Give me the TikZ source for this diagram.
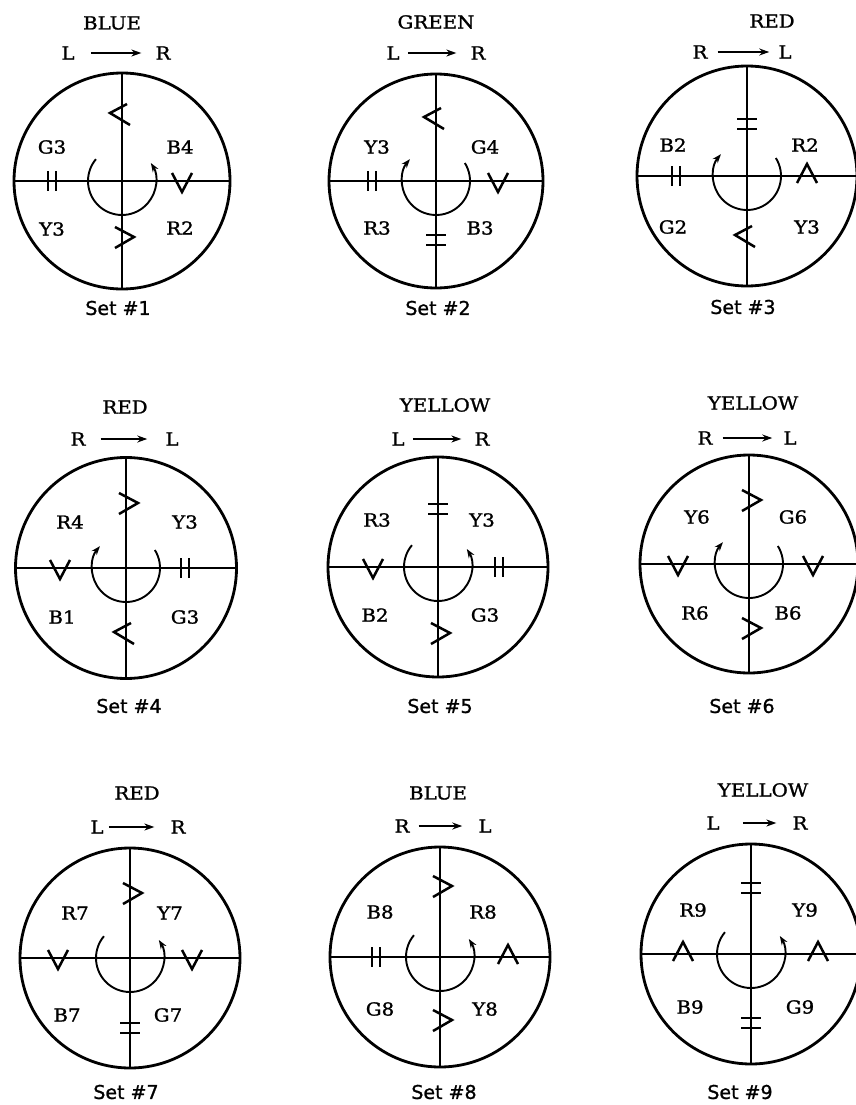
\documentclass[tikz,border=0pt]{standalone}
\usepackage{fontspec}
\setmainfont[FakeStretch=1.1,FakeBold=1.3]{DejaVu Serif}
\newfontfamily\setfont[FakeBold=1.2]{DejaVu Sans}
\usetikzlibrary{arrows.meta,calc}
\tikzset{
  ringnode/.style={circle,draw,line width=2.8pt,inner sep=0pt,outer sep=0pt},
  cross/.style={line width=1.9pt},
  mk/.style={line width=2.5pt,line join=miter},
  rotarr/.style={line width=1.9pt,-{Stealth[length=9pt,width=6.5pt]}},
  lbl/.style={inner sep=0pt,font=\fontsize{18}{21}\selectfont},
  setlbl/.style={inner sep=0pt,font=\setfont\fontsize{19}{22}\selectfont},
  dirarr/.style={line width=1.5pt,-{Stealth[length=10pt,width=7pt]}},
  vmk/.pic={\draw[mk] (-10,-8) -- (0,11) -- (10,-8);},
  amk/.pic={\draw[mk] (-10,7) -- (0,-12) -- (10,7);},
  hbars/.pic={\draw[mk] (-4,-10) -- (-4,10) (4,-10) -- (4,10);},
  vbars/.pic={\draw[mk] (-10,-5) -- (10,-5) (-10,5) -- (10,5);},
  lmk/.pic={\draw[mk] (5,-9) -- (-12,0) -- (8,12);},
  gmk/.pic={\draw[mk] (-7,-10) -- (12,0) -- (-7,11);},
}
\newcommand\turnR[1]{\draw[rotarr] ([shift={(220:34)}]#1.center) arc[start angle=220,end angle=-32,radius=34];}
\newcommand\turnL[1]{\draw[rotarr] ([shift={(-32:34)}]#1.center) arc[start angle=-32,end angle=220,radius=34];}
\newcommand\axes[1]{\draw[cross] (#1.north) -- (#1.south) (#1.west) -- (#1.east);}
\begin{document}
\begin{tikzpicture}[x=1pt,y=-1pt]
\useasboundingbox (0,0) rectangle (855,1105);

% ---------- Set 1 ----------
\node[ringnode,minimum size=216pt] (c1) at (122,181) {};
\axes{c1}
\node[lbl] (t1) at (112,23) {BLUE};
\node[lbl] (a1) at (68,53) {L};
\node[lbl] (b1) at (163,53) {R};
\draw[dirarr,shorten <=16pt,shorten >=14pt] (a1) -- (b1);
\node[lbl] (q1a) at (52,147) {G3};
\node[lbl] (q1b) at (180,147) {B4};
\node[lbl] (q1c) at (52,229) {Y3};
\node[lbl] (q1d) at (180,228) {R2};
\pic at (122,113) {lmk};
\pic at (182,181) {vmk};
\pic at (122,237) {gmk};
\pic at (52,181) {hbars};
\turnR{c1}
\node[setlbl] (s1) at (118,308) {Set \#1};

% ---------- Set 2 ----------
\node[ringnode,minimum size=214pt] (c2) at (436,181) {};
\axes{c2}
\node[lbl] (t2) at (436,22) {GREEN};
\node[lbl] (a2) at (393,53) {L};
\node[lbl] (b2) at (478,53) {R};
\draw[dirarr,shorten <=8pt,shorten >=14pt] (a2) -- (b2);
\node[lbl] (q2a) at (377,147) {Y3};
\node[lbl] (q2b) at (485,147) {G4};
\node[lbl] (q2c) at (377,228) {R3};
\node[lbl] (q2d) at (480,228) {B3};
\pic at (436,117) {lmk};
\pic at (498,181) {vmk};
\pic at (436,240) {vbars};
\pic at (372,181) {hbars};
\turnL{c2}
\node[setlbl] (s2) at (438,308) {Set \#2};

% ---------- Set 3 ----------
\node[ringnode,minimum size=220pt] (c3) at (747,176) {};
\axes{c3}
\node[lbl] (t3) at (772,21) {RED};
\node[lbl] (a3) at (700,52) {R};
\node[lbl] (b3) at (785,52) {L};
\draw[dirarr,shorten <=10pt,shorten >=9pt] (a3) -- (b3);
\node[lbl] (q3a) at (673,145) {B2};
\node[lbl] (q3b) at (805,145) {R2};
\node[lbl] (q3c) at (673,227) {G2};
\node[lbl] (q3d) at (807,227) {Y3};
\pic at (747,124) {vbars};
\pic at (807,176) {amk};
\pic at (747,235) {lmk};
\pic at (676,176) {hbars};
\turnL{c3}
\node[setlbl] (s3) at (743,307) {Set \#3};

% ---------- Set 4 ----------
\node[ringnode,minimum size=221pt] (c4) at (126,568) {};
\axes{c4}
\node[lbl] (t4) at (125,407) {RED};
\node[lbl] (a4) at (78,439) {R};
\node[lbl] (b4) at (172,439) {L};
\draw[dirarr,shorten <=15pt,shorten >=18pt] (a4) -- (b4);
\node[lbl] (q4a) at (70,522) {R4};
\node[lbl] (q4b) at (185,522) {Y3};
\node[lbl] (q4c) at (62,617) {B1};
\node[lbl] (q4d) at (185,617) {G3};
\pic at (126,503) {gmk};
\pic at (185,568) {hbars};
\pic at (126,632) {lmk};
\pic at (60,568) {vmk};
\turnL{c4}
\node[setlbl] (s4) at (129,706) {Set \#4};

% ---------- Set 5 ----------
\node[ringnode,minimum size=220pt] (c5) at (438,567) {};
\axes{c5}
\node[lbl] (t5) at (445,405) {YELLOW};
\node[lbl] (a5) at (398,439) {L};
\node[lbl] (b5) at (482,439) {R};
\draw[dirarr,shorten <=8pt,shorten >=13pt] (a5) -- (b5);
\node[lbl] (q5a) at (377,520) {R3};
\node[lbl] (q5b) at (482,520) {Y3};
\node[lbl] (q5c) at (375,615) {B2};
\node[lbl] (q5d) at (485,615) {G3};
\pic at (438,509) {vbars};
\pic at (499,567) {hbars};
\pic at (438,633) {gmk};
\pic at (373,567) {vmk};
\turnR{c5}
\node[setlbl] (s5) at (440,706) {Set \#5};

% ---------- Set 6 ----------
\node[ringnode,minimum size=218pt] (c6) at (749,564) {};
\axes{c6}
\node[lbl] (t6) at (753,403) {YELLOW};
\node[lbl] (a6) at (705,438) {R};
\node[lbl] (b6) at (790,438) {L};
\draw[dirarr,shorten <=10pt,shorten >=11pt] (a6) -- (b6);
\node[lbl] (q6a) at (697,517) {Y6};
\node[lbl] (q6b) at (793,517) {G6};
\node[lbl] (q6c) at (695,613) {R6};
\node[lbl] (q6d) at (788,613) {B6};
\pic at (749,500) {gmk};
\pic at (813,564) {vmk};
\pic at (749,628) {gmk};
\pic at (678,564) {vmk};
\turnL{c6}
\node[setlbl] (s6) at (742,706) {Set \#6};

% ---------- Set 7 ----------
\node[ringnode,minimum size=220pt] (c7) at (130,958) {};
\axes{c7}
\node[lbl] (t7) at (137,793) {RED};
\node[lbl] (a7) at (97,827) {L};
\node[lbl] (b7) at (178,827) {R};
\draw[dirarr,shorten <=5pt,shorten >=16pt] (a7) -- (b7);
\node[lbl] (q7a) at (75,913) {R7};
\node[lbl] (q7b) at (170,913) {Y7};
\node[lbl] (q7c) at (67,1015) {B7};
\node[lbl] (q7d) at (168,1015) {G7};
\pic at (130,893) {gmk};
\pic at (192,958) {vmk};
\pic at (130,1028) {vbars};
\pic at (58,958) {vmk};
\turnR{c7}
\node[setlbl] (s7) at (126,1092) {Set \#7};

% ---------- Set 8 ----------
\node[ringnode,minimum size=220pt] (c8) at (440,957) {};
\axes{c8}
\node[lbl] (t8) at (438,793) {BLUE};
\node[lbl] (a8) at (402,826) {R};
\node[lbl] (b8) at (485,826) {L};
\draw[dirarr,shorten <=9pt,shorten >=16pt] (a8) -- (b8);
\node[lbl] (q8a) at (380,912) {B8};
\node[lbl] (q8b) at (483,912) {R8};
\node[lbl] (q8c) at (380,1009) {G8};
\node[lbl] (q8d) at (485,1009) {Y8};
\pic at (440,886) {gmk};
\pic at (508,957) {amk};
\pic at (440,1020) {gmk};
\pic at (376,957) {hbars};
\turnR{c8}
\node[setlbl] (s8) at (444,1092) {Set \#8};

% ---------- Set 9 ----------
\node[ringnode,minimum size=220pt] (c9) at (751,954) {};
\axes{c9}
\node[lbl] (t9) at (763,790) {YELLOW};
\node[lbl] (a9) at (713,823) {L};
\node[lbl] (b9) at (800,823) {R};
\draw[dirarr,shorten <=23pt,shorten >=16pt] (a9) -- (b9);
\node[lbl] (q9a) at (693,910) {R9};
\node[lbl] (q9b) at (805,910) {Y9};
\node[lbl] (q9c) at (690,1007) {B9};
\node[lbl] (q9d) at (800,1007) {G9};
\pic at (751,888) {vbars};
\pic at (818,954) {amk};
\pic at (751,1023) {vbars};
\pic at (683,954) {amk};
\turnR{c9}
\node[setlbl] (s9) at (740,1092) {Set \#9};
\end{tikzpicture}
\end{document}
